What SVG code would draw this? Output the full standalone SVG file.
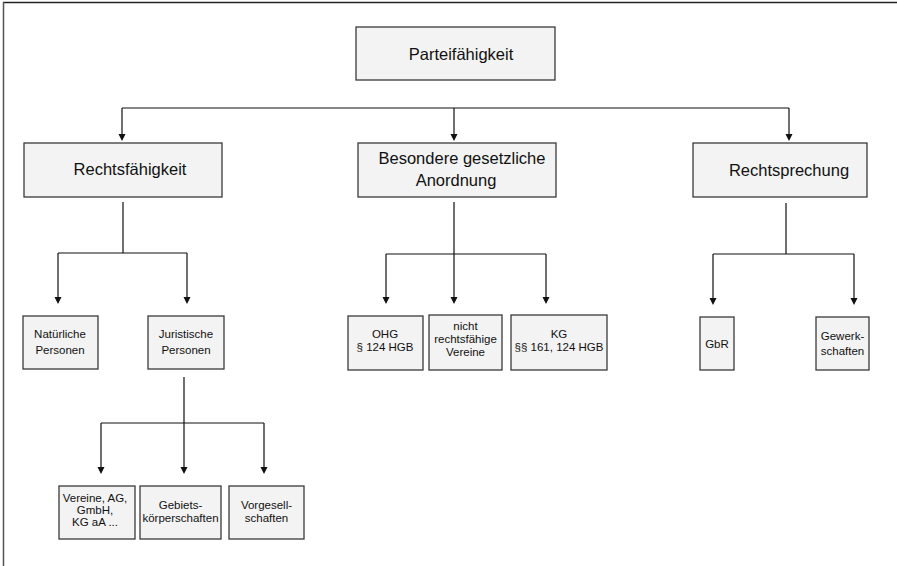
<svg xmlns="http://www.w3.org/2000/svg" width="897" height="566" viewBox="0 0 897 566">
<style>
.box{fill:#f3f3f3;stroke:#3a3a3a;stroke-width:1.3}
.big{font-family:"Liberation Sans",Arial,sans-serif;font-size:16.5px;fill:#111;text-anchor:middle}
.sm{font-family:"Liberation Sans",Arial,sans-serif;font-size:11.5px;fill:#111;text-anchor:middle}
.ln{fill:none;stroke:#111;stroke-width:1.2}
</style>
<defs>
<marker id="ah" viewBox="0 0 8 8" refX="4" refY="8" markerWidth="7" markerHeight="7" markerUnits="userSpaceOnUse" orient="auto-start-reverse">
<path d="M0,0 L8,0 L4,8 Z" fill="#111" transform="rotate(-90 4 4)"/>
</marker>
</defs>
<rect x="0" y="0" width="897" height="566" fill="#fff"/>
<line x1="3" y1="2.5" x2="897" y2="2.5" stroke="#222" stroke-width="1.5"/>
<line x1="3.5" y1="2" x2="3.5" y2="566" stroke="#555" stroke-width="1.5"/>
<g id="connectors">
<path class="ln" d="M122,108 H789"/>
<path class="ln" d="M122,108 V136"/>
<path class="ln" d="M454,108 V136"/>
<path class="ln" d="M789,108 V136"/>
<path d="M118.5,134 H125.5 L122,141 Z M450.5,134 H457.5 L454,141 Z M785.5,134 H792.5 L789,141 Z" fill="#111"/>
<path class="ln" d="M123,202 V253 M58,253 H187 M58,253 V298 M187,253 V298"/>
<path d="M54.5,297 H61.5 L58,304 Z M183.5,297 H190.5 L187,304 Z" fill="#111"/>
<path class="ln" d="M454,202 V298 M386,254 H546 M386,254 V298 M546,254 V298"/>
<path d="M382.5,297 H389.5 L386,304 Z M450.5,297 H457.5 L454,304 Z M542.5,297 H549.5 L546,304 Z" fill="#111"/>
<path class="ln" d="M786,203 V254 M713,254 H854 M713,254 V299 M854,254 V299"/>
<path d="M709.5,298 H716.5 L713,305 Z M850.5,298 H857.5 L854,305 Z" fill="#111"/>
<path class="ln" d="M184,377 V467 M101,423 H264 M101,423 V467 M264,423 V467"/>
<path d="M97.5,467 H104.5 L101,474 Z M180.5,467 H187.5 L184,474 Z M260.5,467 H267.5 L264,474 Z" fill="#111"/>
</g>
<g id="parteifaehigkeit"><rect class="box" x="356" y="27" width="199" height="53"/><text class="big" x="461" y="60">Parteifähigkeit</text></g>
<g id="rechtsfaehigkeit"><rect class="box" x="24" y="143" width="198" height="54"/><text class="big" x="130" y="175">Rechtsfähigkeit</text></g>
<g id="besondere"><rect class="box" x="358" y="143" width="198" height="54"/><text class="big" x="462" y="164">Besondere gesetzliche</text><text class="big" x="456" y="186">Anordnung</text></g>
<g id="rechtsprechung"><rect class="box" x="693" y="143" width="174" height="54"/><text class="big" x="789" y="176">Rechtsprechung</text></g>
<g id="natuerliche"><rect class="box" x="23" y="316" width="75" height="53"/><text class="sm" x="60" y="338">Natürliche</text><text class="sm" x="60" y="354">Personen</text></g>
<g id="juristische"><rect class="box" x="148" y="316" width="76" height="53"/><text class="sm" x="186" y="338">Juristische</text><text class="sm" x="186" y="354">Personen</text></g>
<g id="ohg"><rect class="box" x="348" y="316" width="75" height="54"/><text class="sm" x="385" y="338">OHG</text><text class="sm" x="385" y="351">§ 124 HGB</text></g>
<g id="nicht-rechtsfaehige"><rect class="box" x="429" y="315" width="73" height="55"/><text class="sm" x="465.5" y="330">nicht</text><text class="sm" x="465.5" y="343">rechtsfähige</text><text class="sm" x="465.5" y="356">Vereine</text></g>
<g id="kg"><rect class="box" x="511" y="315" width="96" height="55"/><text class="sm" x="559" y="338">KG</text><text class="sm" x="559" y="351">§§ 161, 124 HGB</text></g>
<g id="gbr"><rect class="box" x="700" y="317" width="34" height="53"/><text class="sm" x="717" y="348">GbR</text></g>
<g id="gewerkschaften"><rect class="box" x="816" y="317" width="53" height="53"/><text class="sm" x="842.5" y="340">Gewerk-</text><text class="sm" x="842.5" y="355">schaften</text></g>
<g id="vereine"><rect class="box" x="59" y="486" width="76" height="53"/><text class="sm" x="95" y="502">Vereine, AG,</text><text class="sm" x="95" y="514">GmbH,</text><text class="sm" x="95" y="526">KG aA ...</text></g>
<g id="gebietskoerperschaften"><rect class="box" x="140" y="486" width="81" height="53"/><text class="sm" x="180.5" y="509">Gebiets-</text><text class="sm" x="180.5" y="522">körperschaften</text></g>
<g id="vorgesellschaften"><rect class="box" x="229" y="486" width="75" height="53"/><text class="sm" x="266.5" y="509">Vorgesell-</text><text class="sm" x="266.5" y="522">schaften</text></g>
</svg>
